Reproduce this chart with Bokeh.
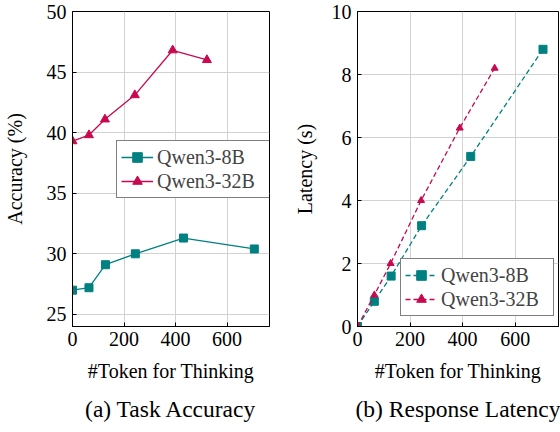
from bokeh.plotting import figure
from bokeh.layouts import row
from bokeh.models import Legend, LegendItem, FixedTicker, Range1d, Title
from bokeh.embed import file_html
from bokeh.resources import INLINE

# ---- data ----
tokens_8b = [0, 64, 128, 244, 431, 706]
tokens_32b = [0, 64, 126, 242, 389, 522]
acc_8b = [27.0, 27.2, 29.1, 30.0, 31.3, 30.4]
acc_32b = [39.3, 39.8, 41.1, 43.1, 46.8, 46.0]
lat_8b = [0.0, 0.8, 1.6, 3.2, 5.4, 8.8]
lat_32b = [0.0, 1.0, 2.0, 4.0, 6.3, 8.2]
x_ticks = [0, 200, 400, 600]
acc_ticks = [25, 30, 35, 40, 45, 50]
lat_ticks = [0, 2, 4, 6, 8, 10]
series_names = ["Qwen3-8B", "Qwen3-32B"]
x_label = "#Token for Thinking"
captions = ["(a) Task Accuracy", "(b) Response Latency"]

TEAL = "#008080"
CRIMSON = "#c8094f"
FONT = "Liberation Serif"
H = 432
BT = 11   # top border
BB = 106  # bottom border


def style(p, yticks, ylabel, ylab_standoff):
    p.outline_line_color = "black"
    p.outline_line_width = 1
    p.background_fill_color = "white"
    p.border_fill_color = "white"
    p.xgrid.grid_line_color = "#d2d2d2"
    p.ygrid.grid_line_color = "#d2d2d2"
    p.xaxis.ticker = FixedTicker(ticks=x_ticks)
    p.yaxis.ticker = FixedTicker(ticks=yticks)
    p.xaxis.axis_label = x_label
    p.yaxis.axis_label = ylabel
    for ax in p.xaxis + p.yaxis:
        ax.major_label_text_font = FONT
        ax.major_label_text_font_size = "20px"
        ax.major_label_text_color = "black"
        ax.axis_label_text_font = FONT
        ax.axis_label_text_font_size = "20px"
        ax.axis_label_text_font_style = "normal"
        ax.axis_label_text_color = "black"
        ax.major_tick_in = 4
        ax.major_tick_out = 0
        ax.minor_tick_line_color = None
        ax.axis_line_color = "black"
        ax.major_tick_line_color = "black"
    p.xaxis.major_label_standoff = 5
    p.yaxis.major_label_standoff = 6
    p.xaxis.axis_label_standoff = 11
    p.yaxis.axis_label_standoff = ylab_standoff


def caption(p, text):
    p.add_layout(Title(text=text, align="center", offset=-4, text_font=FONT,
                       text_font_size="23.5px", text_font_style="normal",
                       text_color="black", standoff=18), "below")


def make_legend(rs, loc, lw):
    return Legend(items=[LegendItem(label=series_names[0], renderers=rs[0]),
                         LegendItem(label=series_names[1], renderers=rs[1])],
                  location=loc, padding=4, spacing=0, margin=0,
                  glyph_width=32, glyph_height=24, label_height=24, label_width=lw,
                  label_standoff=4, label_text_font=FONT, label_text_font_size="20px",
                  border_line_color="black", border_line_width=1,
                  background_fill_color="white", background_fill_alpha=1)


# ---- left: accuracy ----
p1 = figure(width=290, height=H, x_range=Range1d(0, 765), y_range=Range1d(24, 50),
            output_backend="svg", toolbar_location=None,
            min_border_left=68, min_border_right=21, min_border_top=BT, min_border_bottom=BB)
style(p1, acc_ticks, "Accuracy (%)", 18)
l1a = p1.line(tokens_8b, acc_8b, line_color=TEAL, line_width=1.3)
m1a = p1.scatter(tokens_8b, acc_8b, marker="square", size=8, fill_color=TEAL, line_color=TEAL)
l1b = p1.line(tokens_32b, acc_32b, line_color=CRIMSON, line_width=1.3)
m1b = p1.scatter(tokens_32b, acc_32b, marker="triangle", size=9, fill_color=CRIMSON, line_color=CRIMSON)
p1.add_layout(make_legend([[l1a, m1a], [l1b, m1b]], (44, 128), 110), "center")
caption(p1, captions[0])

# ---- right: latency ----
p2 = figure(width=270, height=H, x_range=Range1d(0, 765), y_range=Range1d(0, 10),
            output_backend="svg", toolbar_location=None,
            min_border_left=67, min_border_right=2, min_border_top=BT, min_border_bottom=BB)
style(p2, lat_ticks, "Latency (s)", 13)
l2a = p2.line(tokens_8b, lat_8b, line_color=TEAL, line_width=1.3, line_dash="5 3")
m2a = p2.scatter(tokens_8b, lat_8b, marker="square", size=8, fill_color=TEAL, line_color=TEAL)
l2b = p2.line(tokens_32b, lat_32b, line_color=CRIMSON, line_width=1.3, line_dash="5 3")
m2b = p2.scatter(tokens_32b, lat_32b, marker="triangle", size=7, fill_color=CRIMSON, line_color=CRIMSON)
p2.add_layout(make_legend([[l2a, m2a], [l2b, m2b]], (43, 10), 108), "center")
caption(p2, captions[1])

layout = row(p1, p2)
open("out.html", "w").write(file_html(layout, INLINE))
